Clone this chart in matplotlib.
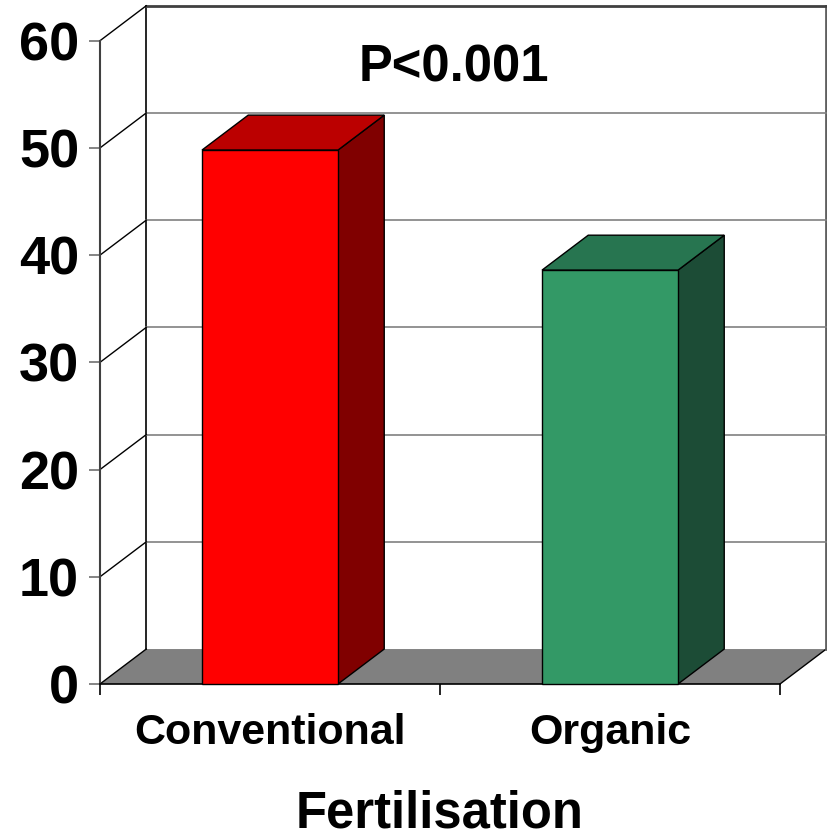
import matplotlib.pyplot as plt
from matplotlib.patches import Polygon

plt.rcParams['font.family'] = ['Liberation Sans', 'DejaVu Sans']
plt.rcParams['font.weight'] = 'bold'

categories = ["Conventional", "Organic"]
values = [49.8, 38.6]
front_colors = ["#FF0000", "#339966"]
top_colors = ["#BB0000", "#277550"]
side_colors = ["#800000", "#1C4C36"]
yticks = [0, 10, 20, 30, 40, 50, 60]

fig = plt.figure(figsize=(8.28, 8.39), dpi=100)
ax = fig.add_axes([100 / 828, (839 - 684) / 839, 680 / 828, 643.3 / 839])
ax.set_xlim(0, 2)
ax.set_ylim(0, 60)

# 3D depth offset in data units
dx, dy = 0.136, 3.26
w = 0.40

# floor
ax.add_patch(Polygon([(0, 0), (2, 0), (2 + dx, dy), (dx, dy)], closed=True,
                     facecolor="#808080", edgecolor="none", clip_on=False, zorder=1))
ax.plot([0, dx], [0, dy], color="black", lw=1, clip_on=False, zorder=2)
ax.plot([2, 2 + dx], [0, dy], color="black", lw=1, clip_on=False, zorder=2)

# back wall and side wall lines
ax.plot([dx, dx], [dy, 60 + dy], color="black", lw=1.2, clip_on=False, zorder=2)
ax.plot([2 + dx, 2 + dx], [dy, 60 + dy], color="#606060", lw=2, clip_on=False, zorder=2)
ax.plot([dx, 2 + dx], [60 + dy, 60 + dy], color="#404040", lw=2, clip_on=False, zorder=2)
for v in yticks[1:-1]:
    ax.plot([dx, 2 + dx], [v + dy, v + dy], color="#808080", lw=1.2, clip_on=False, zorder=2)
for v in yticks[1:]:
    ax.plot([0, dx], [v, v + dy], color="black", lw=1, clip_on=False, zorder=2)

# bars
for i, (cat, v) in enumerate(zip(categories, values)):
    c = i + 0.5
    x0, x1 = c - w / 2, c + w / 2
    ax.add_patch(Polygon([(x1, 0), (x1 + dx, dy), (x1 + dx, v + dy), (x1, v)],
                         facecolor=side_colors[i], edgecolor="black", lw=1, clip_on=False, zorder=3))
    ax.add_patch(Polygon([(x0, v), (x1, v), (x1 + dx, v + dy), (x0 + dx, v + dy)],
                         facecolor=top_colors[i], edgecolor="black", lw=1, clip_on=False, zorder=3))
    ax.add_patch(Polygon([(x0, 0), (x1, 0), (x1, v), (x0, v)],
                         facecolor=front_colors[i], edgecolor="black", lw=1, clip_on=False, zorder=4))

for s in ["top", "right"]:
    ax.spines[s].set_visible(False)
ax.spines["left"].set_color("#404040")
ax.spines["left"].set_linewidth(1.5)
ax.spines["bottom"].set_color("black")
ax.spines["bottom"].set_linewidth(1.2)
ax.set_facecolor("none")

ax.set_yticks(yticks)
ax.set_yticklabels([str(t) for t in yticks], fontsize=39, fontweight="bold")
ax.tick_params(axis="y", length=8, width=1.2, color="#707070", pad=7)
ax.set_xticks([0, 1, 2])
ax.set_xticklabels([])
ax.tick_params(axis="x", length=8, width=1.2, color="black")
ax.set_xticks([0.5, 1.5], minor=True)
ax.set_xticklabels(categories, minor=True, fontsize=31, fontweight="bold")
ax.tick_params(axis="x", which="minor", length=0, pad=21)

ax.set_xlabel("Fertilisation", fontsize=36.5, fontweight="bold", labelpad=26)
ax.text(1.04, 57.5, "P<0.001", fontsize=36.5, fontweight="bold", ha="center", va="center")

fig.savefig("out.png", dpi=100)
